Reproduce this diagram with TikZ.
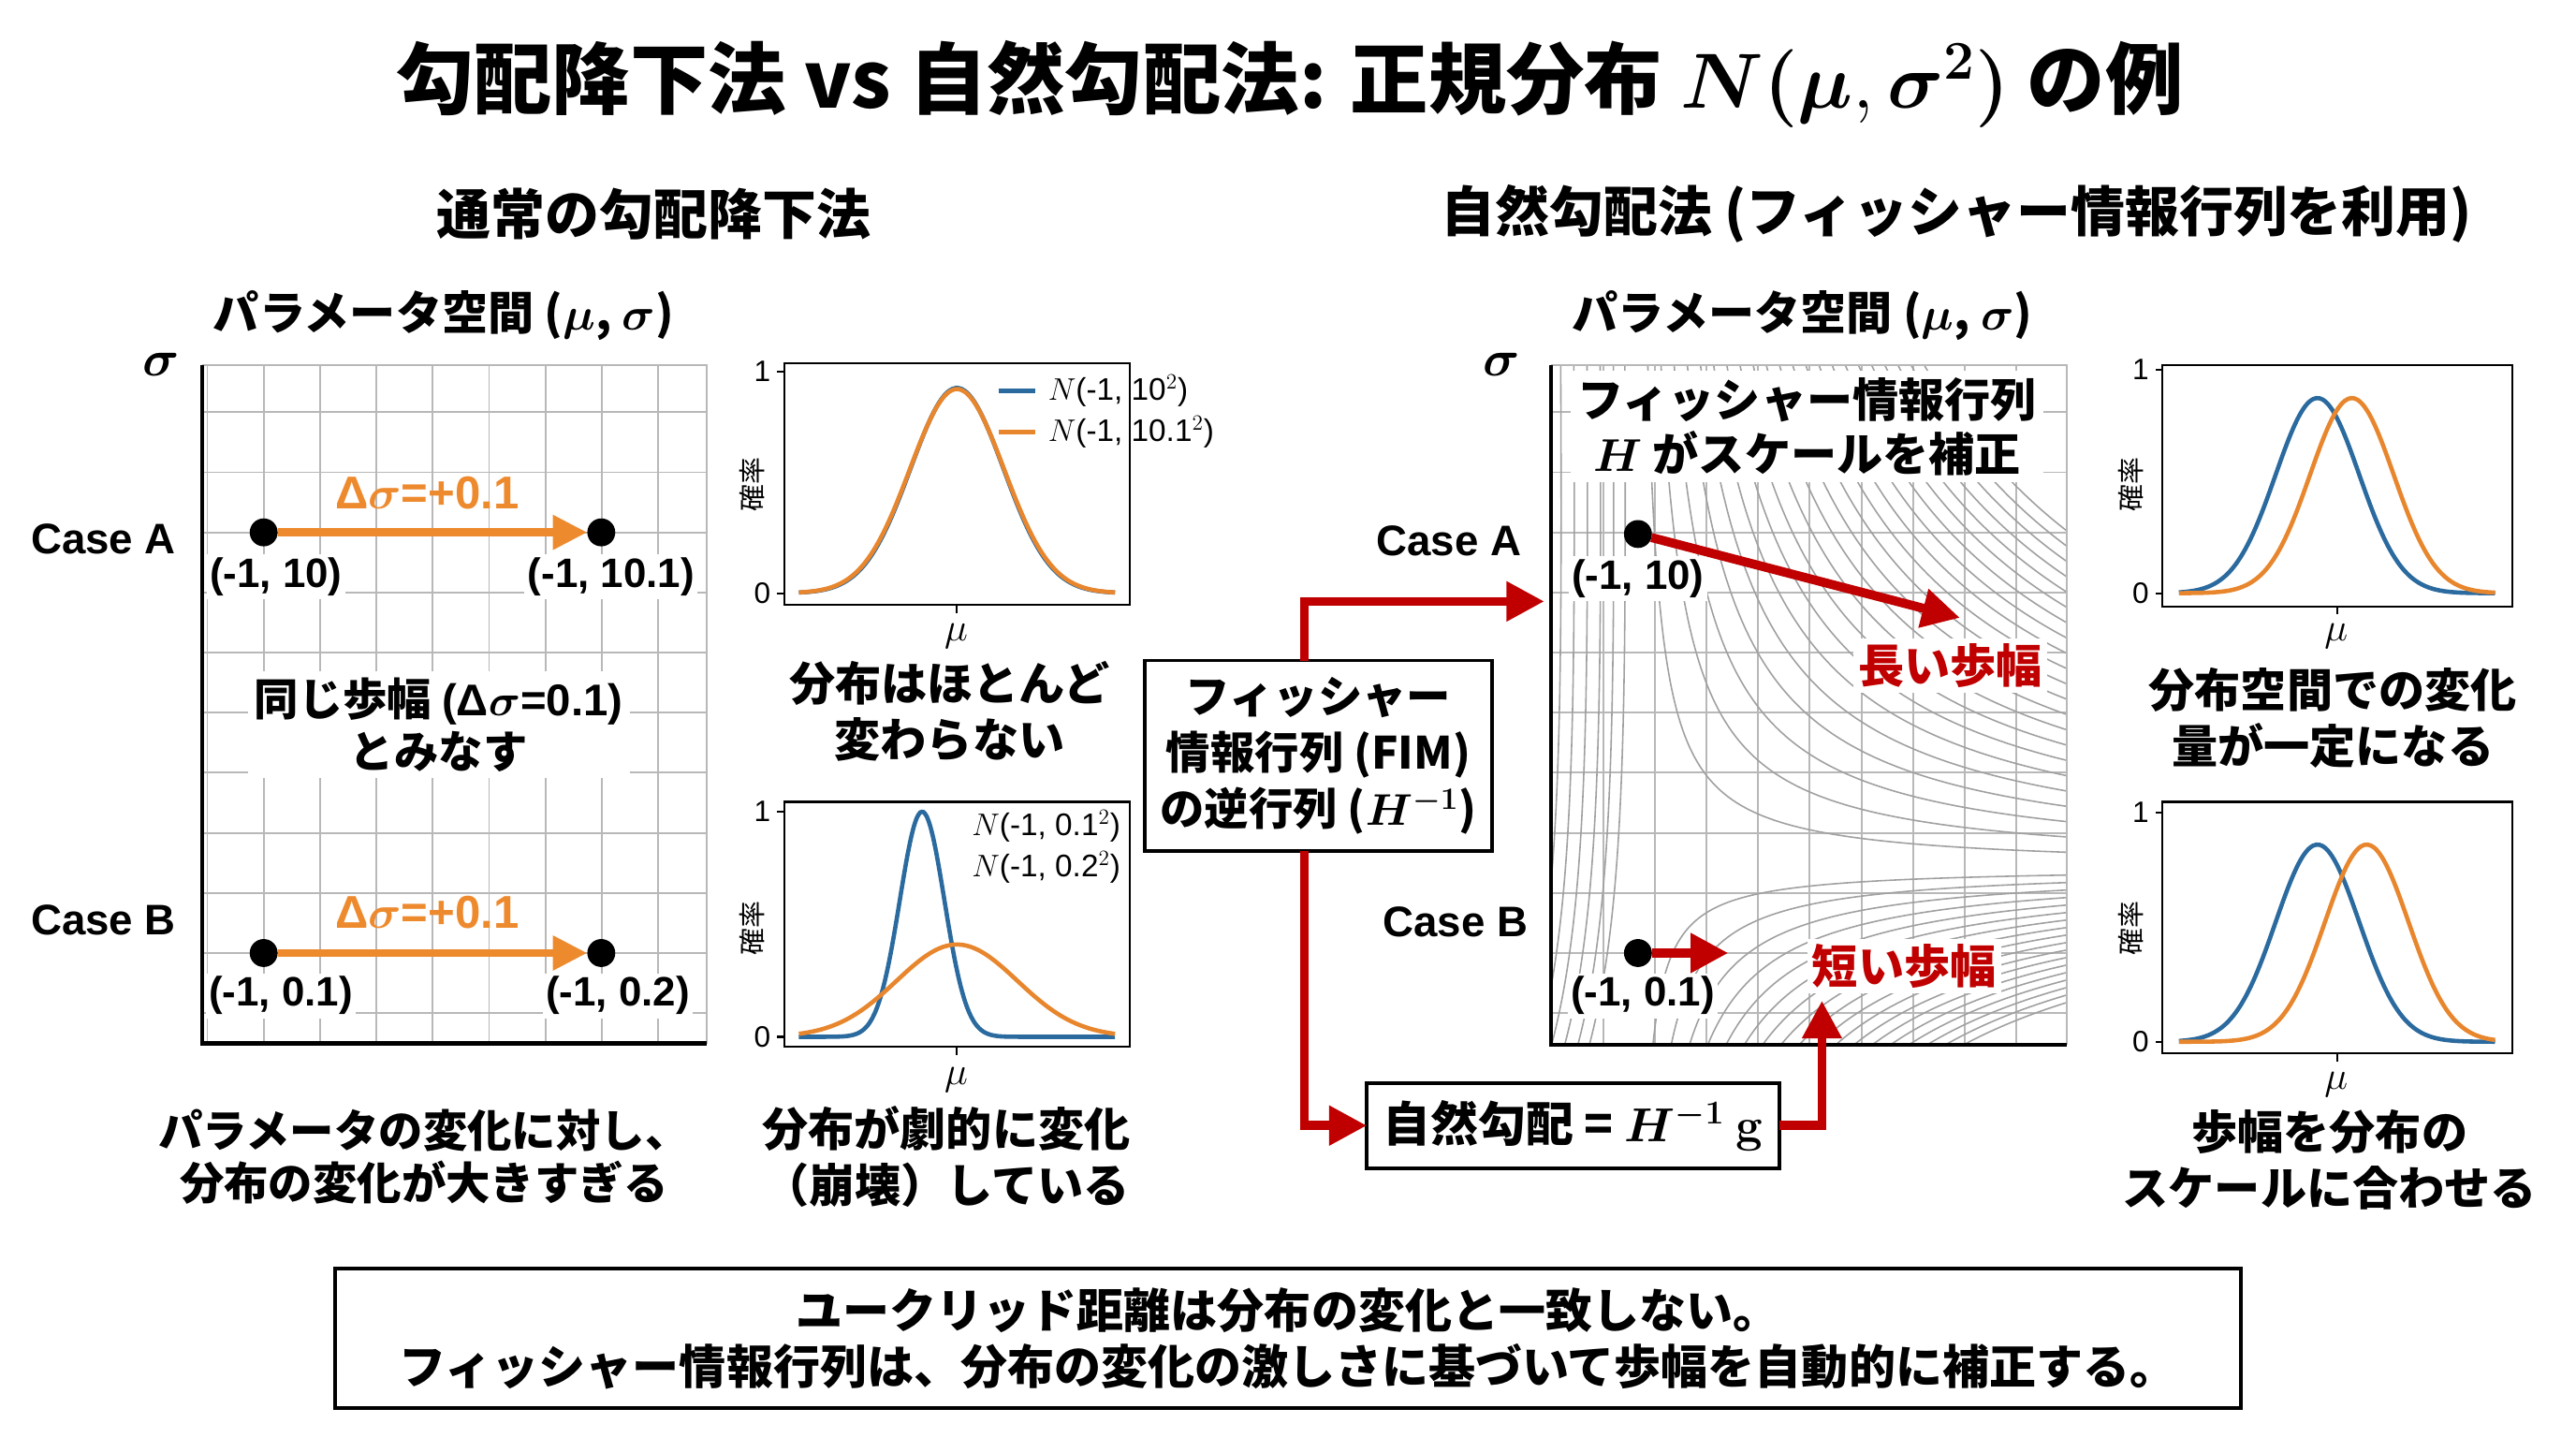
\RequirePackage{fix-cm}
\documentclass[tikz,border=0pt]{standalone}
\usepackage[no-math]{fontspec}
\usepackage{amsmath,bm}
\setmainfont{Noto Sans CJK JP}
\newfontfamily\hv{Liberation Sans}
\usetikzlibrary{arrows.meta}
\definecolor{myorange}{HTML}{EE8A2E}
\definecolor{myred}{HTML}{C00000}
\definecolor{cblue}{HTML}{2B6A9E}
\definecolor{corange}{HTML}{E8862E}
\definecolor{gridgray}{HTML}{B8B8B8}
\definecolor{contgray}{HTML}{A0A0A0}
\newcommand\gcurve[7]{\draw[#1] plot[domain=-3.4:3.4,samples=100,smooth] ({#2+28.3*\x},{#3-#4*#5*exp(max(-20,-((\x-(#6))*(\x-(#6)))/(2*(#7)*(#7))))});}
\begin{document}
\begin{tikzpicture}[x=1pt,y=-1pt,
 every node/.style={inner sep=0pt,outer sep=0pt},
 ttl/.style={font=\fontsize{47.5}{52}\selectfont\bfseries},
 headtxt/.style={font=\fontsize{33}{38}\selectfont\bfseries},
 subtxt/.style={font=\fontsize{28}{32}\selectfont\bfseries},
 caselbl/.style={font=\hv\bfseries\fontsize{26}{30}\selectfont},
 coordlbl/.style={font=\hv\bfseries\fontsize{25}{28}\selectfont,fill=white,inner sep=2pt},
 dlbl/.style={font=\hv\bfseries\fontsize{28}{30}\selectfont,text=myorange},
 captxt/.style={font=\fontsize{28}{34}\selectfont\bfseries,align=center},
 dotnode/.style={circle,fill=black,minimum size=17pt},
 oarrow/.style={draw=myorange,line width=5pt,-{Triangle[length=21pt,width=20pt]}},
 rline/.style={draw=myred,line width=5.5pt,-{Triangle[length=23pt,width=23pt]}},
 gridl/.style={draw=gridgray,line width=1.1pt},
 axisl/.style={draw=black,line width=2.4pt},
 contl/.style={draw=contgray,line width=0.9pt},
 pbox/.style={draw=black,line width=1.2pt},
 tickl/.style={font=\hv\fontsize{18}{18}\selectfont},
 ylab/.style={font=\fontsize{16.5}{16.5}\selectfont,rotate=90},
 mulab/.style={font=\fontsize{24}{24}\selectfont},
 legtxt/.style={font=\hv\fontsize{19}{20}\selectfont},
 bcurve/.style={draw=cblue,line width=2.6pt},
 ocurve/.style={draw=corange,line width=2.6pt},
 frm/.style={draw=black,line width=2.2pt},
 redlbl/.style={font=\fontsize{28}{30}\selectfont\bfseries,text=myred,fill=white,inner sep=3pt},
 sig/.style={font=\fontsize{31}{31}\selectfont}
]
\useasboundingbox (0,0) rectangle (1568,875);
\fill[white] (0,0) rectangle (1568,875);

% ---------- titles ----------
\node[ttl] (title) at (785,51) {勾配降下法 vs 自然勾配法: 正規分布 $\bm{N}\bm{(}\bm{\mu},\bm{\sigma}^{\bm{2}}\bm{)}$ の例};
\node[headtxt] (h1) at (398,130) {通常の勾配降下法};
\node[headtxt] (h2) at (1191,130) {自然勾配法 (フィッシャー情報行列を利用)};
\node[subtxt] (sub1) at (270,192) {パラメータ空間 ($\bm\mu$, $\bm\sigma$)};
\node[subtxt] (sub2) at (1097,192) {パラメータ空間 ($\bm\mu$, $\bm\sigma$)};

% ---------- left parameter grid ----------
\begin{scope}
\clip (123,222) rectangle (430,635);
\foreach \k in {-1,...,8} \draw[gridl] ({160.5+34.3*\k},222) -- ({160.5+34.3*\k},636);
\foreach \k in {-2,...,10} \draw[gridl] (123,{580-36.57*\k}) -- (430,{580-36.57*\k});
\end{scope}
\draw[gridl] (123,222) -- (430,222) -- (430,635);
\draw[axisl] (123,222) -- (123,635) -- (430,635);
\node[sig] (sigL) at (98,222) {$\bm\sigma$};
\node[caselbl] (caseAL) at (63,328) {Case A};
\node[caselbl] (caseBL) at (63,560) {Case B};
\node[coordlbl] (la1) at (168,351) {(-1, 10)};
\node[coordlbl] (la2) at (372,351) {(-1, 10.1)};
\node[coordlbl] (lb1) at (171,606) {(-1, 0.1)};
\node[coordlbl] (lb2) at (376,606) {(-1, 0.2)};
\node[dlbl] (dA) at (260,300) {Δ$\bm\sigma$=+0.1};
\node[dlbl] (dB) at (260,555) {Δ$\bm\sigma$=+0.1};
\node[captxt,font=\fontsize{27}{32}\selectfont\bfseries,fill=white,inner sep=4pt] (same) at (267,441) {同じ歩幅 {\hv(Δ$\bm\sigma$=0.1)}\\とみなす};
\node[dotnode] (a1) at (160.5,324) {};
\node[dotnode] (a2) at (366,324) {};
\node[dotnode] (b1) at (160.5,580) {};
\node[dotnode] (b2) at (366,580) {};
\draw[oarrow] (a1) -- (a2);
\draw[oarrow] (b1) -- (b2);
\node[captxt,font=\fontsize{27}{32}\selectfont\bfseries] (capL) at (258,704) {パラメータの変化に対し、\\分布の変化が大きすぎる};

% ---------- middle plots ----------
\node[pbox,minimum width=210pt,minimum height=147pt] (pA) at (582.5,294.5) {};
\draw[pbox] (477,226) -- (473,226);
\draw[pbox] (477,361) -- (473,361);
\draw[pbox] (pA.south) -- ++(0,5);
\node[tickl,anchor=east] (tA1) at (469,226) {1};
\node[tickl,anchor=east] (tA0) at (469,361) {0};
\node[ylab] (yA) at (458,295) {確率};
\node[mulab] (muA) at (582,387) {$\mu$};
\gcurve{bcurve}{582.5}{361}{135}{0.925}{0}{1}
\gcurve{ocurve}{582.5}{361}{135}{0.92}{0}{1.015}
\draw[bcurve] (608,238) -- (630,238);
\draw[ocurve] (608,263) -- (630,263);
\node[legtxt,anchor=west] (lgA1) at (638,238) {$N$(-1, 10$^2$)};
\node[legtxt,anchor=west] (lgA2) at (638,263) {$N$(-1, 10.1$^2$)};
\node[captxt] (capA) at (578,433) {分布はほとんど\\変わらない};

\node[pbox,minimum width=210pt,minimum height=149pt] (pB) at (582.5,562.5) {};
\draw[pbox] (477,494) -- (473,494);
\draw[pbox] (477,631) -- (473,631);
\draw[pbox] (pB.south) -- ++(0,5);
\node[tickl,anchor=east] (tB1) at (469,494) {1};
\node[tickl,anchor=east] (tB0) at (469,631) {0};
\node[ylab] (yB) at (458,565) {確率};
\node[mulab] (muB) at (582,657) {$\mu$};
\gcurve{bcurve}{582.5}{631}{137}{1.0}{-0.75}{0.48}
\gcurve{ocurve}{582.5}{631}{137}{0.41}{0}{1.3}
\node[legtxt,anchor=east] (lgB1) at (682,503) {$N$(-1, 0.1$^2$)};
\node[legtxt,anchor=east] (lgB2) at (682,528) {$N$(-1, 0.2$^2$)};
\node[captxt] (capB) at (576,704) {分布が劇的に変化\\（崩壊）している};

% ---------- FIM boxes ----------
\node[frm,minimum width=211pt,minimum height=116pt,align=center,font=\fontsize{27}{34}\selectfont\bfseries] (fim) at (802.5,460) {フィッシャー\\情報行列 (FIM)\\の逆行列 ($\bm{H^{-1}}$)};
\node[frm,minimum width=251pt,minimum height=52pt,font=\fontsize{29}{32}\selectfont\bfseries] (ng) at (957.5,685) {自然勾配 = $\bm{H^{-1}}$ $\mathbf{g}$};

% ---------- right parameter grid ----------
\begin{scope}
\clip (944,222) rectangle (1258,636);
\foreach \k in {-1,...,9} \draw[gridl] ({976+31.4*\k},222) -- ({976+31.4*\k},636);
\foreach \k in {-2,...,10} \draw[gridl] (944,{580-36.57*\k}) -- (1258,{580-36.57*\k});
% contour lines (saddle-like family)
\foreach \k in {1,...,22}{
  \pgfmathsetmacro\cc{24.5*\k}
  \pgfmathsetmacro\ta{ln(\cc/3.06)}
  \draw[contl] plot[domain=\ta:5.58,samples=40,smooth] ({995+exp(\x)},{528-\cc*(100/exp(\x))});
}
\foreach \k in {1,...,18}{
  \pgfmathsetmacro\cc{12*\k}
  \pgfmathsetmacro\ta{ln(\cc/1.1)}
  \draw[contl] plot[domain=\ta:5.58,samples=40,smooth] ({995+exp(\x)},{528+\cc*(100/exp(\x))});
}
\foreach \xi in {950,958,966,974,982,989}{
  \draw[contl] (\xi,222) .. controls ({\xi+1},450) and (\xi,565) .. ({\xi-25},648);
}
\end{scope}
\draw[gridl] (944,222) -- (1258,222) -- (1258,636);
\draw[axisl] (944,222) -- (944,636) -- (1258,636);
\node[sig] (sigR) at (914,222) {$\bm\sigma$};
\node[caselbl] (caseAR) at (882,329) {Case A};
\node[caselbl] (caseBR) at (886,561) {Case B};
\node[captxt,fill=white,inner sep=4pt,font=\fontsize{28}{33}\selectfont\bfseries] (fbox) at (1100,259.5) {フィッシャー情報行列\\$\bm H$ がスケールを補正};
\node[coordlbl] (ra1) at (997,352) {(-1, 10)};
\node[coordlbl] (rb1) at (1000,606) {(-1, 0.1)};
\node[redlbl] (longlbl) at (1187,405) {長い歩幅};
\node[redlbl] (shortlbl) at (1159,588) {短い歩幅};
\node[dotnode] (rA) at (997,325) {};
\node[dotnode] (rB) at (997,580) {};
\coordinate (endA) at (1193,376);
\coordinate (endB) at (1052,580);
\draw[rline] (rA) -- (endA);
\draw[rline] (rB) -- (endB);

% connectors
\coordinate (rpA) at (940,366);
\coordinate (rpB) at (1109,609);
\draw[rline] (fim.north -| 794,0) |- (rpA);
\draw[rline] (fim.south -| 794,0) |- (ng.west);
\draw[rline] (ng.east) -| (rpB);

% ---------- right plots ----------
\node[pbox,minimum width=213pt,minimum height=147pt] (pC) at (1422.5,295.5) {};
\draw[pbox] (1316,225) -- (1312,225);
\draw[pbox] (1316,361) -- (1312,361);
\draw[pbox] (pC.south) -- ++(0,5);
\node[tickl,anchor=east] (tC1) at (1308,225) {1};
\node[tickl,anchor=east] (tC0) at (1308,361) {0};
\node[ylab] (yC) at (1297,295) {確率};
\node[mulab] (muC) at (1422,387) {$\mu$};
\gcurve{bcurve}{1422.5}{361}{136}{0.873}{-0.42}{0.9}
\gcurve{ocurve}{1422.5}{361}{136}{0.873}{0.32}{0.9}
\node[captxt] (capC) at (1420,437) {分布空間での変化\\量が一定になる};

\node[pbox,minimum width=213pt,minimum height=153pt] (pD) at (1422.5,564.5) {};
\draw[pbox] (1316,494.5) -- (1312,494.5);
\draw[pbox] (1316,634) -- (1312,634);
\draw[pbox] (pD.south) -- ++(0,5);
\node[tickl,anchor=east] (tD1) at (1308,494.5) {1};
\node[tickl,anchor=east] (tD0) at (1308,634) {0};
\node[ylab] (yD) at (1297,565) {確率};
\node[mulab] (muD) at (1422,660) {$\mu$};
\gcurve{bcurve}{1422.5}{634}{139.5}{0.86}{-0.42}{0.9}
\gcurve{ocurve}{1422.5}{634}{139.5}{0.86}{0.64}{0.9}
\node[captxt] (capD) at (1418,706) {歩幅を分布の\\スケールに合わせる};

% ---------- summary ----------
\node[frm,minimum width=1160pt,minimum height=85pt,align=center,font=\fontsize{28.5}{34}\selectfont\bfseries] (sum) at (784,814.5) {ユークリッド距離は分布の変化と一致しない。\\フィッシャー情報行列は、分布の変化の激しさに基づいて歩幅を自動的に補正する。};
\end{tikzpicture}
\end{document}
